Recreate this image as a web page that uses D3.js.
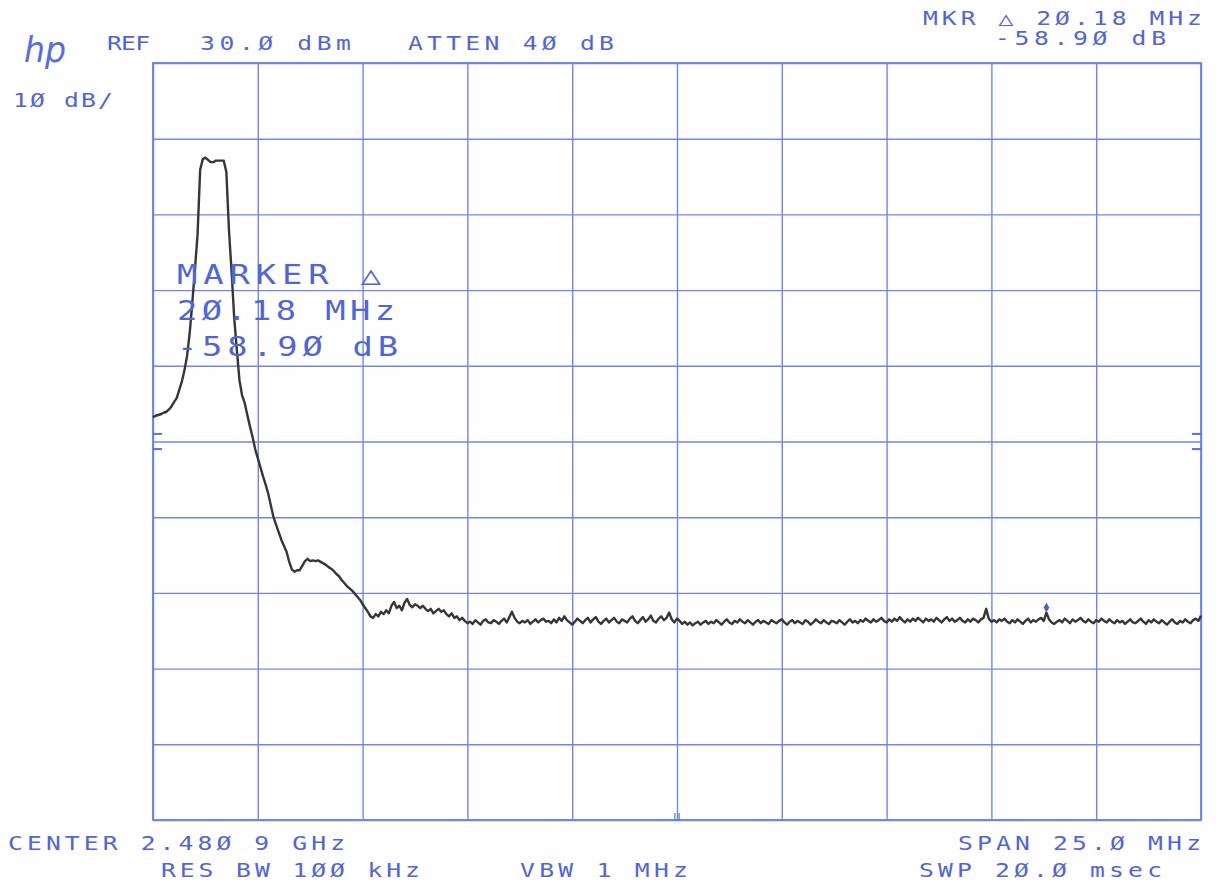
<!DOCTYPE html>
<html>
<head>
<meta charset="utf-8">
<script src="https://cdn.jsdelivr.net/npm/d3@7"></script>
<style>
  body { margin: 0; background: #fefefe; }
  .label { font-family: "DejaVu Sans Mono", monospace; fill: #5266d2; }
  .grid line { stroke: #7088e2; stroke-width: 1.4; }
  .grid path { display: none; }
</style>
</head>
<body>
<div id="chart-area"></div>
<script>

// Screen settings of the analyzer
const spanMHz = 25;
const refLevelDbm = 30;
const dbPerDiv = 10;

// Graticule lines (offset from center, MHz) and (level, dBm)
const xGridMHz = [-12.5, -10, -7.5, -5, -2.5, 0, 2.5, 5, 7.5, 10, 12.5];
const yGridDbm = [30, 20, 10, 0, -10, -20, -30, -40, -50, -60, -70];

// Threshold marks on both edges (dBm)
const edgeMarksDbm = [-19, -21];

// Annotation texts
const headerLabels = ["REF", "30.Ø dBm", "ATTEN 4Ø dB", "1Ø dB/", "MKR △ 2Ø.18 MHz", "-58.9Ø dB"];
const footerLabels = ["CENTER 2.48Ø 9 GHz", "RES BW 1ØØ kHz", "VBW 1 MHz", "SPAN 25.Ø MHz", "SWP 2Ø.Ø msec"];
const markerLabels = ["MARKER △", "2Ø.18 MHz", "-58.9Ø dB"];

// Sweep trace, 401 points across the span (dBm)
const traceDbm = [
  -16.8,-16.6,-16.5,-16.4,-16.2,-16.1,-15.8,-15.4,-14.8,-14.3,-13.2,-12.1,-10.6,-8.7,-5.7,-1.7,2.7,7.3,15.9,17.3,17.5,
  17.2,16.9,16.9,17.1,17.1,17.1,17.1,15.6,7.9,2.4,-3.7,-7.9,-11.9,-13.9,-14.9,-16.5,-18.0,-19.4,-21.0,-22.2,
  -23.4,-24.6,-25.7,-26.9,-28.5,-30.0,-31.0,-32.0,-33.0,-33.8,-34.6,-35.9,-36.9,-37.2,-37.0,-37.0,-36.4,-35.8,-35.5,-35.8,
  -35.7,-35.8,-35.7,-35.9,-36.1,-36.3,-36.6,-36.8,-37.1,-37.5,-37.8,-38.3,-38.7,-39.1,-39.4,-39.7,-40.1,-40.5,-40.9,-41.5,
  -42.0,-42.5,-43.1,-43.3,-42.8,-43.1,-42.5,-42.8,-42.3,-42.7,-41.7,-41.2,-42.0,-41.7,-42.3,-41.3,-40.8,-41.6,-41.9,-41.5,
  -41.7,-42.0,-41.7,-42.1,-42.4,-42.1,-42.7,-42.4,-42.1,-42.5,-42.3,-42.8,-43.1,-42.7,-43.3,-43.1,-43.6,-43.3,-43.7,-44.0,
  -43.8,-44.1,-43.6,-43.9,-44.2,-43.7,-43.5,-43.9,-44.0,-43.6,-43.8,-44.1,-43.7,-43.4,-43.9,-43.2,-42.5,-43.3,-43.8,-44.0,
  -43.7,-43.9,-43.6,-44.1,-43.8,-43.5,-43.9,-43.6,-43.4,-43.8,-43.7,-44.0,-43.5,-43.9,-43.3,-43.7,-43.1,-43.6,-43.9,-44.2,
  -43.8,-43.4,-43.7,-44.0,-43.6,-43.3,-43.9,-43.5,-43.2,-43.8,-44.1,-43.7,-43.4,-43.9,-43.6,-43.3,-43.8,-44.0,-43.5,-43.7,
  -43.9,-43.4,-43.1,-43.7,-44.0,-43.6,-43.2,-43.8,-43.5,-43.0,-43.7,-43.9,-43.4,-43.1,-43.6,-43.3,-42.6,-43.5,-43.9,-43.4,
  -43.7,-44.1,-43.8,-44.2,-43.9,-44.3,-44.0,-43.8,-44.2,-43.9,-43.7,-44.1,-43.8,-44.0,-43.6,-43.9,-44.2,-43.8,-43.5,-43.9,
  -44.1,-43.7,-43.9,-43.5,-43.8,-44.0,-43.6,-43.9,-44.2,-43.8,-43.6,-44.0,-43.7,-43.9,-44.1,-43.6,-43.8,-44.0,-43.7,-43.5,
  -43.9,-44.2,-43.8,-43.6,-44.0,-43.7,-43.9,-44.1,-43.6,-43.8,-44.2,-43.9,-43.5,-43.8,-44.0,-43.6,-43.9,-44.1,-43.7,-43.8,
  -44.0,-43.6,-43.9,-44.2,-43.8,-43.5,-43.9,-43.7,-44.0,-43.6,-43.8,-43.4,-43.7,-43.9,-43.5,-43.8,-43.6,-43.3,-43.7,-43.9,
  -43.5,-43.8,-43.4,-43.7,-43.2,-43.6,-43.9,-43.5,-43.8,-43.4,-43.7,-43.3,-43.6,-43.9,-43.4,-43.7,-43.5,-43.8,-43.3,-43.6,
  -43.9,-43.5,-43.2,-43.7,-43.4,-43.8,-43.6,-43.3,-43.7,-43.9,-43.5,-43.8,-43.4,-43.6,-43.9,-43.5,-43.3,-42.1,-43.4,-43.8,
  -43.6,-43.9,-43.5,-43.7,-43.4,-43.8,-44.0,-43.6,-43.9,-43.5,-43.8,-44.1,-43.7,-43.4,-43.9,-43.6,-43.8,-43.5,-43.3,-43.7,
  -42.6,-43.5,-43.9,-44.1,-43.8,-43.6,-43.9,-43.4,-43.7,-44.0,-43.5,-43.8,-43.6,-43.3,-43.7,-43.9,-43.5,-43.8,-44.0,-43.6,
  -43.8,-43.4,-43.7,-43.9,-43.5,-43.8,-44.0,-43.6,-43.9,-43.7,-44.1,-43.8,-43.5,-43.9,-44.0,-43.7,-43.4,-43.8,-44.1,-43.6,
  -43.9,-43.5,-43.8,-44.0,-43.6,-43.9,-44.2,-43.8,-43.5,-43.9,-44.1,-43.7,-43.9,-43.5,-43.8,-44.0,-43.6,-43.4,-43.7,-43.0
];

// Sweep point that carries the delta marker
const markerIndex = 341;


class SpectrumChart {

	constructor(parentElement) {
		this.parentElement = parentElement;
		this.initVis();
	}

	/*
	 * Initialize visualization (graticule, scales, texts)
	 */
	initVis() {
		let vis = this;

		vis.margin = { top: 63, right: 15, bottom: 66, left: 153 };
		vis.width = 1216 - vis.margin.left - vis.margin.right;
		vis.height = 886 - vis.margin.top - vis.margin.bottom;

		vis.root = d3.select("#" + vis.parentElement)
			.append("svg")
			.attr("width", 1216)
			.attr("height", 886);

		vis.root.append("rect")
			.attr("width", 1216)
			.attr("height", 886)
			.attr("fill", "#fefefe");

		vis.svg = vis.root.append("g")
			.attr("transform", "translate(" + vis.margin.left + "," + vis.margin.top + ")");

		// Scales: frequency offset and level
		vis.x = d3.scaleLinear()
			.domain([-spanMHz / 2, spanMHz / 2])
			.range([0, vis.width]);
		vis.y = d3.scaleLinear()
			.domain([refLevelDbm - 10 * dbPerDiv, refLevelDbm])
			.range([vis.height, 0]);

		// sweep bin -> frequency offset
		vis.bin = d3.scaleLinear()
			.domain([0, traceDbm.length - 1])
			.range([-spanMHz / 2, spanMHz / 2]);

		// Graticule drawn with axes
		vis.xAxis = d3.axisBottom(vis.x)
			.tickValues(xGridMHz)
			.tickSize(-vis.height)
			.tickFormat("");
		vis.svg.append("g")
			.attr("class", "grid")
			.attr("transform", "translate(0," + vis.height + ")")
			.call(vis.xAxis);

		vis.yAxis = d3.axisLeft(vis.y)
			.tickValues(yGridDbm)
			.tickSize(-vis.width)
			.tickFormat("");
		vis.svg.append("g")
			.attr("class", "grid")
			.call(vis.yAxis);

		vis.svg.append("rect")
			.attr("width", vis.width)
			.attr("height", vis.height)
			.attr("fill", "none")
			.attr("stroke", "#6a82e0")
			.attr("stroke-width", 1.8);

		// Edge threshold marks
		edgeMarksDbm.forEach(d => {
			vis.svg.append("line")
				.attr("x1", 0).attr("x2", 9)
				.attr("y1", vis.y(d)).attr("y2", vis.y(d))
				.attr("stroke", "#5a72dc").attr("stroke-width", 2);
			vis.svg.append("line")
				.attr("x1", vis.width - 9).attr("x2", vis.width)
				.attr("y1", vis.y(d)).attr("y2", vis.y(d))
				.attr("stroke", "#5a72dc").attr("stroke-width", 2);
		});

		// Center frequency tick at the bottom
		[-0.05, 0.05].forEach(d => {
			vis.svg.append("line")
				.attr("x1", vis.x(d)).attr("x2", vis.x(d))
				.attr("y1", vis.height - 7).attr("y2", vis.height)
				.attr("stroke", "#5a72dc").attr("stroke-width", 1.2);
		});

		vis.drawTexts();
		vis.updateVis();
	}

	/*
	 * Screen annotations
	 */
	drawTexts() {
		let vis = this;

		// hp logo
		vis.root.append("text")
			.attr("x", 24)
			.attr("y", 62)
			.attr("font-family", "DejaVu Sans")
			.attr("font-style", "italic")
			.attr("font-size", 36)
			.attr("fill", "#5a6ed6")
			.attr("textLength", 42)
			.attr("lengthAdjust", "spacingAndGlyphs")
			.text("hp");

		let headerPos = [[107, 50, 43], [200, 50, 151], [408, 50, 206], [13, 107, 100], [923, 25, 279], [995, 45, 171]];
		let footerPos = [[8, 850, 337], [161, 877, 259], [520, 877, 168], [958, 850, 243], [919, 877, 243]];
		let markerPos = [[177, 284, 204], [177, 320, 218], [177, 356, 221]];

		// plotter font is wider than the mono font: stretch glyphs, then fit with spacing
		let stretch = 1.3;

		let put = (labels, pos, size) => {
			labels.forEach((t, i) => {
				vis.root.append("text")
					.attr("class", "label")
					.attr("transform", "translate(" + pos[i][0] + "," + pos[i][1] + ") scale(" + stretch + ",1)")
					.attr("font-size", size)
					.attr("textLength", pos[i][2] / stretch)
					.attr("lengthAdjust", "spacing")
					.text(t);
			});
		};

		put(headerLabels, headerPos, 19);
		put(footerLabels, footerPos, 19);
		put(markerLabels, markerPos, 26);
	}

	/*
	 * Trace and marker
	 */
	updateVis() {
		let vis = this;

		vis.line = d3.line()
			.x((d, i) => vis.x(vis.bin(i)))
			.y(d => vis.y(d));

		vis.svg.append("path")
			.datum(traceDbm)
			.attr("class", "trace")
			.attr("fill", "none")
			.attr("stroke", "#363636")
			.attr("stroke-width", 2.4)
			.attr("stroke-linejoin", "round")
			.attr("d", vis.line);

		vis.svg.append("path")
			.attr("d", d3.symbol(d3.symbolDiamond, 28)())
			.attr("transform", "translate(" + vis.x(vis.bin(markerIndex)) + "," + (vis.y(traceDbm[markerIndex]) - 5) + ")")
			.attr("fill", "#4a5fd0");
	}
}

new SpectrumChart("chart-area");

</script>
</body>
</html>
